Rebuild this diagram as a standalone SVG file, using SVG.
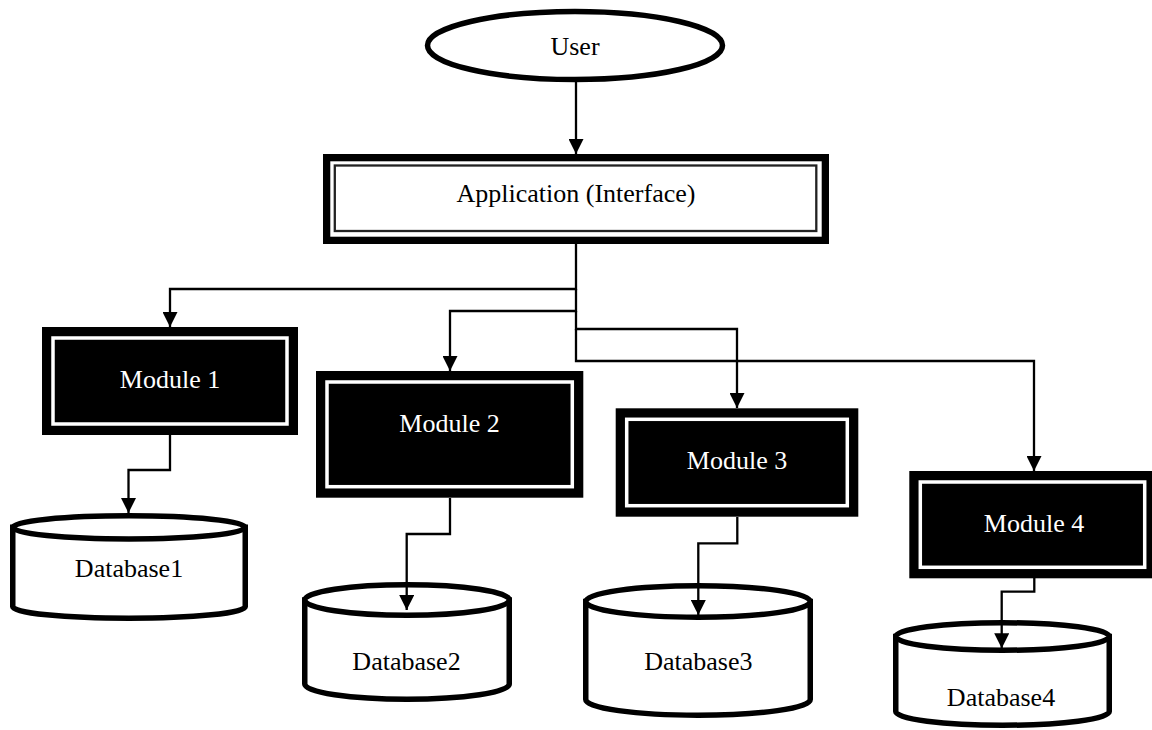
<svg xmlns="http://www.w3.org/2000/svg" width="1152" height="730" viewBox="0 0 1152 730">
<defs>
<style>
.t{font-family:"Liberation Serif","Times New Roman",serif;font-size:26px;text-anchor:middle}
.tb{fill:#000}
.tw{fill:#fff}
.cyl{fill:#fff;stroke:#000;stroke-width:5.5}
.mod{fill:#000}
.modin{fill:none;stroke:#fff;stroke-width:3.5}
.con{fill:none;stroke:#000;stroke-width:2.3}
</style>
<marker id="ah" markerUnits="userSpaceOnUse" markerWidth="15" markerHeight="15" refX="15" refY="7.5" orient="auto">
<path d="M0,0 L15,7.5 L0,15 z" fill="#000"/>
</marker>
</defs>
<rect x="0" y="0" width="1152" height="730" fill="#fff"/>

<g id="connectors">
<path class="con" d="M576,82 L576,154" marker-end="url(#ah)"/>
<path class="con" d="M576,244 L576,289 L170,289 L170,327" marker-end="url(#ah)"/>
<path class="con" d="M576,289 L576,311 L450,311 L450,371" marker-end="url(#ah)"/>
<path class="con" d="M576,311 L576,329 L737,329 L737,408" marker-end="url(#ah)"/>
<path class="con" d="M576,329 L576,361 L1034,361 L1034,471" marker-end="url(#ah)"/>
</g>

<g id="user">
<ellipse cx="575" cy="45.5" rx="147.5" ry="34" fill="#fff" stroke="#000" stroke-width="5.5"/>
<text class="t tb" x="575" y="55">User</text>
</g>

<g id="application">
<rect x="326.65" y="157.65" width="498.7" height="82.7" fill="#fff" stroke="#000" stroke-width="7.3"/>
<rect x="334.8" y="165.5" width="481.5" height="65.5" fill="none" stroke="#222" stroke-width="2.3"/>
<text class="t tb" x="576" y="201.7">Application (Interface)</text>
</g>

<g id="db1">
<path class="cyl" d="M12.75,527.35 L12.75,606.65 A116.25,11.6 0 0 0 245.25,606.65 L245.25,527.35 Z"/>
<ellipse class="cyl" cx="129" cy="527.35" rx="116.25" ry="11.6"/>
<text class="t tb" x="129" y="577">Database1</text>
</g>
<g id="db2">
<path class="cyl" d="M304.75,600 L304.75,684 A102.25,15.25 0 0 0 509.25,684 L509.25,600 Z"/>
<ellipse class="cyl" cx="407" cy="600" rx="102.25" ry="15.25"/>
<text class="t tb" x="406.5" y="670">Database2</text>
</g>
<g id="db3">
<path class="cyl" d="M585.75,601.5 L585.75,699.5 A112.25,15.75 0 0 0 810.25,699.5 L810.25,601.5 Z"/>
<ellipse class="cyl" cx="698" cy="601.5" rx="112.25" ry="15.75"/>
<text class="t tb" x="698.3" y="670">Database3</text>
</g>
<g id="db4">
<path class="cyl" d="M895.75,636.5 L895.75,711.5 A106.75,13.75 0 0 0 1109.25,711.5 L1109.25,636.5 Z"/>
<ellipse class="cyl" cx="1002.5" cy="636.5" rx="106.75" ry="13.75"/>
<text class="t tb" x="1001" y="706">Database4</text>
</g>

<g id="connectors-db">
<path class="con" d="M170,435 L170,470 L128.5,470 L128.5,513" marker-end="url(#ah)"/>
<path class="con" d="M450,498 L450,534 L406.7,534 L406.7,610" marker-end="url(#ah)"/>
<path class="con" d="M737.3,517 L737.3,543.3 L698.3,543.3 L698.3,615" marker-end="url(#ah)"/>
<path class="con" d="M1034.3,578 L1034.3,591.7 L1001.7,591.7 L1001.7,648.3" marker-end="url(#ah)"/>
</g>

<g id="module1">
<rect class="mod" x="42" y="327" width="256" height="108"/>
<rect class="modin" x="53" y="338" width="234" height="86"/>
<text class="t tw" x="170" y="388">Module 1</text>
</g>
<g id="module2">
<rect class="mod" x="316" y="371" width="267.3" height="126.7"/>
<rect class="modin" x="327" y="382" width="245.3" height="104.7"/>
<text class="t tw" x="449.5" y="431.7">Module 2</text>
</g>
<g id="module3">
<rect class="mod" x="615.7" y="408.3" width="242.6" height="108.4"/>
<rect class="modin" x="626.7" y="419.3" width="220.6" height="86.4"/>
<text class="t tw" x="737" y="469.3">Module 3</text>
</g>
<g id="module4">
<rect class="mod" x="909.3" y="471" width="246.4" height="107.3"/>
<rect class="modin" x="920.3" y="482" width="224.4" height="85.3"/>
<text class="t tw" x="1034" y="531.7">Module 4</text>
</g>
</svg>
